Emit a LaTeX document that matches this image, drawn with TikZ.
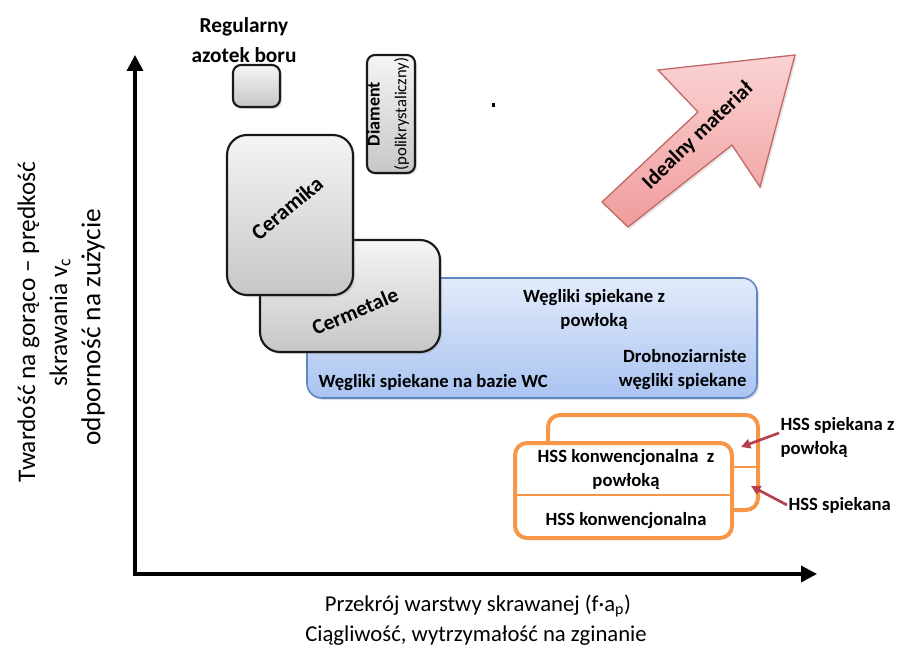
\documentclass[tikz,border=0pt]{standalone}
\usepackage{fontspec}
\setmainfont{Carlito}
\usetikzlibrary{arrows.meta,shadows}

\definecolor{hssorange}{HTML}{F79646}
\definecolor{bluetop}{HTML}{E2EBFB}
\definecolor{bluebot}{HTML}{A9C3F1}
\definecolor{blueline}{HTML}{5E87C4}
\definecolor{pinktop}{HTML}{FBD3D3}
\definecolor{pinkbot}{HTML}{F09C9C}
\definecolor{pinkline}{HTML}{C26A6A}
\definecolor{pointred}{HTML}{B73F4E}

\tikzset{every picture/.style={line width=0.75pt}}
\tikzset{
  graybox/.style={draw=black!90, line width=1.6pt, top color=black!4, bottom color=black!22,
    drop shadow={shadow xshift=1.5pt, shadow yshift=-1.5pt, opacity=0.25}},
  bluebox/.style={draw=blueline, line width=1.2pt, top color=bluetop, bottom color=bluebot,
    drop shadow={shadow xshift=1.5pt, shadow yshift=-1.5pt, opacity=0.25}},
  hssbox/.style={draw=hssorange, line width=3pt, fill=white, rounded corners=9pt},
  lbl/.style={font=\bfseries\fontsize{14}{18}\selectfont, inner sep=0.75pt, align=center},
  axlbl/.style={font=\fontsize{17}{22}\selectfont, inner sep=0.75pt, align=center},
  axis/.style={line width=2.6pt, {Triangle[length=12pt,width=12pt]}-{Triangle[length=12pt,width=12pt]}},
  pointer/.style={draw=pointred, line width=2pt, -{Triangle[length=7pt,width=7pt]}},
}

\begin{document}
\begin{tikzpicture}[x=0.75pt,y=0.75pt,yscale=-1,xscale=1]
	\useasboundingbox (0,0) rectangle (899,652);
	
	%Axes
	\coordinate (orig) at (135,574);
	\coordinate (ytop) at (135,55);
	\coordinate (xend) at (817,574);
	\draw [axis] (ytop) -- (orig) -- (xend);
	
	%Rounded Rect [azotek]
	\draw [graybox, rounded corners=6pt] (233,65) rectangle (280,107);
	%Rounded Rect [diament]
	\draw [graybox, rounded corners=6pt] (367,55) rectangle (415,173);
	%Rounded Rect [blue]
	\draw [bluebox, rounded corners=11pt] (307,278) rectangle (757,398);
	%Rounded Rect [cermetale]
	\draw [graybox, rounded corners=15pt] (260,240) rectangle (440,352);
	%Rounded Rect [ceramika]
	\draw [graybox, rounded corners=15pt] (227,135) rectangle (353,295);
	
	%Rounded Rect [hss back]
	\draw [hssbox] (548,415) rectangle (758,510);
	\draw [hssbox, line width=1.5pt] (732,467) -- (758,467);
	%Rounded Rect [hss front]
	\draw [hssbox] (515,443) rectangle (732,538);
	\draw [hssbox, line width=1.5pt] (515,495) -- (732,495);
	
	%Shape: Right Arrow [idealny]
	\draw [draw=pinkline, line width=1pt, top color=pinktop, bottom color=pinkbot,
	  drop shadow={shadow xshift=1.5pt, shadow yshift=-1.5pt, opacity=0.2}]
	  (602,202) -- (698,112) -- (658,70) -- (795,55) -- (760,187) -- (732,145) -- (628,227) -- cycle;
	
	%Dot
	\fill (491.5,103.5) rectangle (494.5,107.5);
	
	% Text Node
	\node [lbl, font=\bfseries\fontsize{16}{22.5}\selectfont] (azotek) at (244,40) {Regularny\\azotek boru};
	% Text Node
	\node [inner sep=0.75pt, align=center, rotate=90, font=\fontsize{12.5}{20}\selectfont] (diament) at (388,114)
	  {{\bfseries\fontsize{13.5}{20}\selectfont Diament}\\(polikrystaliczny)};
	% Text Node
	\node [lbl, rotate=40, font=\bfseries\fontsize{16.5}{20}\selectfont] (ceramika) at (287,208) {Ceramika};
	% Text Node
	\node [lbl, rotate=23, font=\bfseries\fontsize{16}{20}\selectfont] (cermetale) at (355,311) {Cermetale};
	% Text Node
	\node [lbl] (weglikipow) at (594,309) {Węgliki spiekane z\\powłoką};
	% Text Node
	\node [lbl, anchor=east, align=right] (drobno) at (748,370) {Drobnoziarniste\\węgliki spiekane};
	% Text Node
	\node [lbl, anchor=west] (weglikiwc) at (317,383) {Węgliki spiekane na bazie WC};
	% Text Node
	\node [lbl, rotate=44, font=\bfseries\fontsize{16}{20}\selectfont] (idealny) at (698,136) {Idealny materiał};
	% Text Node
	\node [lbl] (hsskonwpow) at (626,469) {HSS konwencjonalna\ \ z\\powłoką};
	% Text Node
	\node [lbl] (hsskonw) at (626,521) {HSS konwencjonalna};
	% Text Node
	\node [lbl, anchor=west, align=left] (hssspiekpow) at (779,437) {HSS spiekana z\\powłoką};
	% Text Node
	\node [lbl, anchor=west] (hssspiek) at (787,505) {HSS spiekana};
	
	%Pointers
	\coordinate (tipa) at (741,447);
	\coordinate (tipb) at (751,486);
	\draw [pointer] (hssspiekpow.west) ++(0,-4) -- (tipa);
	\draw [pointer] (hssspiek.west) -- (tipb);
	
	% Text Node
	\node [axlbl, rotate=90, font=\fontsize{19}{24}\selectfont] (ylabel) at (44,322) {Twardość na gorąco – prędkość\\skrawania v\textsubscript{c}};
	% Text Node
	\node [axlbl, rotate=90, font=\fontsize{20.5}{24}\selectfont] (ylabelb) at (93,327) {odporność na zużycie};
	% Text Node
	\node [axlbl] (xlabel) at (478,606) {Przekrój warstwy skrawanej (f·a\textsubscript{p})};
	% Text Node
	\node [axlbl] (xlabelb) at (476,636) {Ciągliwość, wytrzymałość na zginanie};
\end{tikzpicture}
\end{document}
